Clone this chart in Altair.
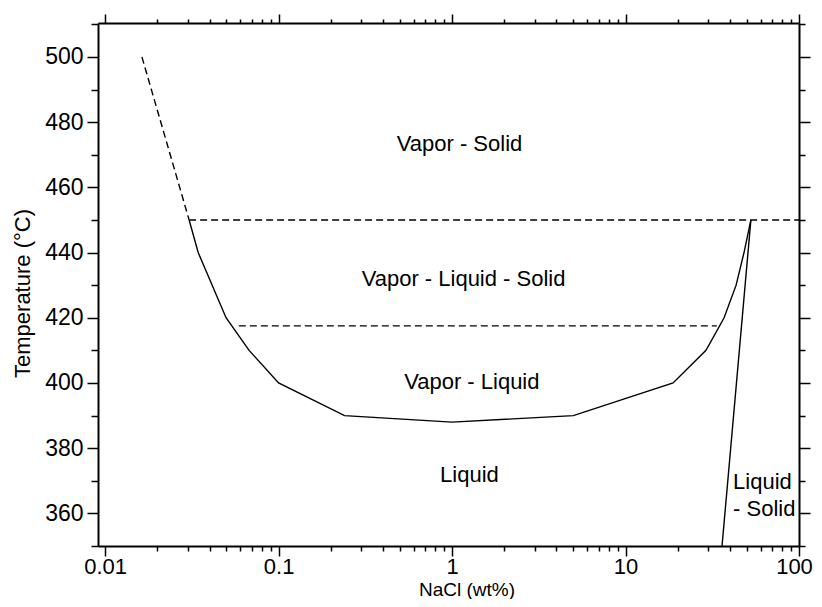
import altair as alt
import pandas as pd

# ---- data ----
# vapor-liquid boundary (solid curve)
vl_nacl = [0.0305, 0.0344, 0.0498, 0.0676, 0.1, 0.24, 1.0, 5.0, 18.8, 29.1, 37.0, 43.4, 48.2, 52.8]
vl_temp = [450, 440, 420, 410, 400, 390, 388, 390, 400, 410, 420, 430, 440, 450]
# metastable extension (dashed)
ext_nacl = [0.0163, 0.0305]
ext_temp = [500, 450]
# liquid - solid boundary
ls_nacl = [52.8, 36.0]
ls_temp = [450, 350]
# horizontal dashed lines
h1_nacl = [0.0305, 100]
h1_temp = [450, 450]
h2_nacl = [0.059, 33.6]
h2_temp = [417.5, 417.5]
# region labels
lab_text = ["Vapor - Solid", "Vapor - Liquid - Solid", "Vapor - Liquid", "Liquid"]
lab_nacl = [1.104, 1.165, 1.30, 1.26]
lab_temp = [473.2, 432.0, 400.3, 371.8]
lab2_text = ["Liquid", "- Solid"]
lab2_nacl = [41.7, 41.7]
lab2_temp = [369.6, 361.2]

x_major = [0.01, 0.1, 1, 10, 100]
x_minor = [m * d for d in [0.01, 0.1, 1, 10] for m in range(1, 10)] + [100]
y_ticks = list(range(350, 511, 10))

FONT = "Liberation Sans"

xscale = alt.Scale(type="log", domain=[0.0091, 100], nice=False)
yscale = alt.Scale(domain=[350, 510.4], nice=False, zero=False)

dec_test = "abs(log(datum.value)/LN10 - round(log(datum.value)/LN10)) < 0.001"

x_bottom = alt.Axis(
    orient="bottom", values=x_minor, title="NaCl (wt%)",
    labelExpr=f"({dec_test}) ? datum.label : ''",
    tickSize={"condition": {"test": dec_test, "value": 10}, "value": 5},
    labelOffset={"condition": {"test": "datum.value >= 99", "value": -5}, "value": 0},
    labelPadding=0, labelFlush=False, labelOverlap=False,
    labelFont=FONT, labelFontSize=22, labelColor="black",
    titleFont=FONT, titleFontSize=19, titleFontWeight="normal", titleColor="black",
    titleX=368.5, titleY=49, titleBaseline="alphabetic", titleAlign="center",
    domainColor="black", domainWidth=2, tickColor="black", tickWidth=1.5,
    grid=False,
)
y_left = alt.Axis(
    orient="left", values=y_ticks, title="Temperature (°C)",
    labelExpr="(datum.value % 20 == 0 && datum.value >= 360 && datum.value <= 500) ? datum.label : ''",
    tickSize={"condition": {"test": "datum.value % 20 == 0", "value": 11}, "value": 7},
    labelPadding=4, labelOverlap=False, labelFlush=False,
    labelFont=FONT, labelFontSize=23, labelColor="black",
    titleFont=FONT, titleFontSize=22, titleFontWeight="normal", titleColor="black",
    titleX=-76, titleY=270, titleBaseline="middle", titleAlign="center", titleAngle=-90,
    domainColor="black", domainWidth=2, tickColor="black", tickWidth=1.5,
    grid=False,
)
x_top = alt.Axis(
    orient="top", values=x_minor, title=None, labels=False,
    tickSize={"condition": {"test": dec_test, "value": 9}, "value": 4},
    domainColor="black", domainWidth=2, tickColor="black", tickWidth=1.5, grid=False,
)
y_right = alt.Axis(
    orient="right", values=y_ticks, title=None, labels=False,
    tickSize={"condition": {"test": "datum.value % 20 == 0", "value": 11}, "value": 6},
    domainColor="black", domainWidth=2, tickColor="black", tickWidth=1.5, grid=False,
)

df_vl = pd.DataFrame({"x": vl_nacl, "t": vl_temp, "o": range(len(vl_nacl))})
df_ext = pd.DataFrame({"x": ext_nacl, "t": ext_temp})
df_ls = pd.DataFrame({"x": ls_nacl, "t": ls_temp})
df_h1 = pd.DataFrame({"x": h1_nacl, "t": h1_temp})
df_h2 = pd.DataFrame({"x": h2_nacl, "t": h2_temp})
df_lab = pd.DataFrame({"x": lab_nacl, "t": lab_temp, "txt": lab_text})
df_lab2 = pd.DataFrame({"x": lab2_nacl, "t": lab2_temp, "txt": lab2_text})

def enc(axx=None, axy=None):
    return dict(
        x=alt.X("x:Q", scale=xscale, axis=axx),
        y=alt.Y("t:Q", scale=yscale, axis=axy),
    )

main_bl = alt.Chart(df_vl).mark_line(color="black", strokeWidth=1.4).encode(
    order="o:Q", **enc(x_bottom, y_left))
main_tr = alt.Chart(df_vl).mark_line(color="black", strokeWidth=1.4, opacity=0).encode(
    order="o:Q", **enc(x_top, y_right))
ext = alt.Chart(df_ext).mark_line(color="black", strokeWidth=1.4, strokeDash=[7, 4]).encode(**enc())
ls = alt.Chart(df_ls).mark_line(color="black", strokeWidth=1.4).encode(**enc())
h1 = alt.Chart(df_h1).mark_line(color="black", strokeWidth=1.4, strokeDash=[7, 4]).encode(**enc())
h2 = alt.Chart(df_h2).mark_line(color="black", strokeWidth=1.4, strokeDash=[7, 4]).encode(**enc())
labs = alt.Chart(df_lab).mark_text(font=FONT, fontSize=22, color="black", baseline="middle",
                                   align="center").encode(text="txt:N", **enc())
labs2 = alt.Chart(df_lab2).mark_text(font=FONT, fontSize=22, color="black", baseline="middle",
                                     align="left").encode(text="txt:N", **enc())

chart = alt.layer(main_bl, main_tr, ext, ls, h1, h2, labs, labs2).resolve_axis(
    x="independent", y="independent"
).properties(
    width=701, height=523,
    autosize=alt.AutoSizeParams(type="none"),
    padding={"left": 90, "top": 15, "right": 15, "bottom": 53},
    background="white",
).configure_view(stroke=None)

chart.save("out.html", embed_options={"renderer": "svg", "actions": False})
